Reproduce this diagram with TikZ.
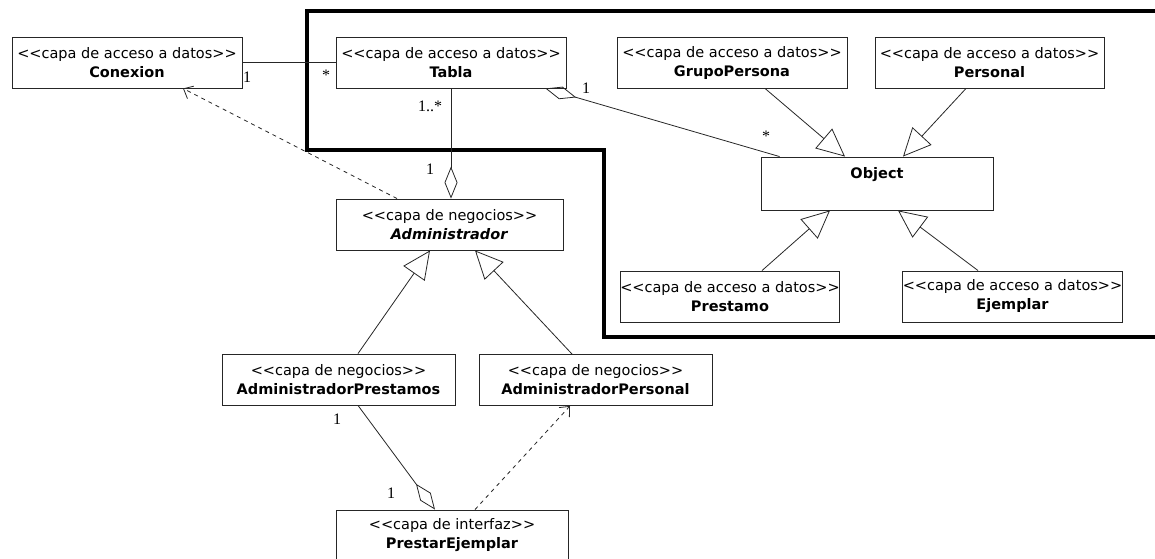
\documentclass[tikz,border=0pt]{standalone}
\usepackage{fontspec}
\setmainfont{DejaVu Sans}
\newfontfamily\multfont{Liberation Serif}
\usetikzlibrary{arrows.meta}

\newcommand{\estereo}[1]{<\kern0pt<#1>\kern0pt>}

\begin{document}
\begin{tikzpicture}[x=1pt, y=-1pt,
    clase/.style={draw=black!85, line width=0.9pt, fill=white, align=center,
      inner sep=0pt, minimum height=51pt, font=\fontsize{14.5}{19}\selectfont},
    mult/.style={font=\multfont\fontsize{16}{16}\selectfont, inner sep=0pt},
    enlace/.style={line width=0.8pt, draw=black!85},
    hereda/.style={enlace, -{Triangle[open, length=28pt, width=26pt]}},
    agrega/.style={enlace, -{Diamond[open, length=32pt, width=13pt]}},
    usa/.style={enlace, dash pattern=on 4pt off 4pt,
      -{Straight Barb[length=8pt, width=14pt]}}]
            \useasboundingbox (0,0) rectangle (1155,558);

            % The thick frame round the data layer
            \draw [line width=4pt] (1170,10.5) -- (306.5,10.5) -- (306.5,150)
              -- (604,150) -- (604,337) -- (1170,337);

            % Classes of the data layer
            \foreach \id/\x/\y/\ancho/\nombre in {
              conexion/127/62.5/230/Conexion,
              tabla/451/62.5/230/Tabla,
              grupo/732/62.5/230/GrupoPersona,
              personal/989.5/62.5/229/Personal,
              prestamo/730/296.5/216/Prestamo,
              ejemplar/1012.5/296.5/217/Ejemplar} {
              \node [clase, minimum width=\ancho pt] (\id) at (\x,\y)
                {\estereo{capa de acceso a datos}\\\textbf{\nombre}};
            }
            \node [clase, minimum width=232pt, minimum height=53pt] (object)
              at (877,183.5) {\textbf{Object}\\[2pt]\mbox{}};

            % Business and interface classes
            \node [clase, minimum width=227pt] (admin) at (449.5,224.5)
              {\estereo{capa de negocios}\\\textbf{\textit{Administrador}}};
            \node [clase, minimum width=233pt] (adminprest) at (338.5,379.5)
              {\estereo{capa de negocios}\\\textbf{AdministradorPrestamos}};
            \node [clase, minimum width=233pt] (adminpers) at (595.5,380)
              {\estereo{capa de negocios}\\\textbf{AdministradorPersonal}};
            \node [clase, minimum width=232pt] (prestar) at (452,535.5)
              {\estereo{capa de interfaz}\\\textbf{PrestarEjemplar}};

            % Associations and aggregations
            \draw [enlace] (conexion.east) -- (tabla.west);
            \draw [agrega] (tabla.south) -- (tabla.south |- admin.north);
            \draw [agrega] ([xshift=19pt]object.north west) -- ([xshift=-21pt]tabla.south east);
            \draw [agrega] ([xshift=19.5pt]adminprest.south) -- ([xshift=-17pt]prestar.north);

            % Generalizations
            \draw [hereda] ([xshift=33pt]grupo.south) -- ([xshift=-32pt]object.north);
            \draw [hereda] ([xshift=-23.5pt]personal.south) -- ([xshift=26pt]object.north);
            \draw [hereda] ([xshift=32pt]prestamo.north) -- ([xshift=-47pt]object.south);
            \draw [hereda] ([xshift=-34.5pt]ejemplar.north) -- ([xshift=21pt]object.south);
            \draw [hereda] ([xshift=19.5pt]adminprest.north) -- ([xshift=-19.5pt]admin.south);
            \draw [hereda] ([xshift=-23.5pt]adminpers.north) -- ([xshift=25.5pt]admin.south);

            % Dependencies
            \draw [usa] ([xshift=-52.5pt]admin.north) -- ([xshift=56pt]conexion.south);
            \draw [usa] ([xshift=23pt]prestar.north) -- ([xshift=-25.5pt]adminpers.south);

            % Multiplicities
            \node [mult] (m-con) at (247,77) {1};
            \node [mult] (m-tab) at (326,75) {*};
            \node [mult] (m-tabadm) at (430,106) {1..*};
            \node [mult] (m-adm) at (430,169) {1};
            \node [mult] (m-tabobj) at (586,88) {1};
            \node [mult] (m-obj) at (766,136) {*};
            \node [mult] (m-prest) at (337,419) {1};
            \node [mult] (m-ejem) at (391,493) {1};
        \end{tikzpicture}
\end{document}
